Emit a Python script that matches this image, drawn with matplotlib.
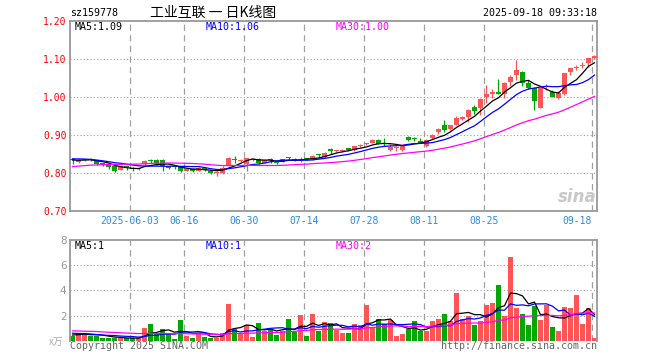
import matplotlib
matplotlib.use('Agg')
import matplotlib.pyplot as plt
import numpy as np
import pandas as pd

# ---------------- data ----------------
opens = [0.838, 0.830, 0.835, 0.837, 0.834, 0.826, 0.823, 0.819, 0.810, 0.819,
         0.814, 0.812, 0.824, 0.833, 0.835, 0.836, 0.818, 0.817, 0.816, 0.807,
         0.811, 0.807, 0.814, 0.807, 0.801, 0.800, 0.821, 0.838, 0.832, 0.825,
         0.836, 0.837, 0.828, 0.835, 0.831, 0.830, 0.840, 0.837, 0.835, 0.839,
         0.837, 0.849, 0.842, 0.862, 0.858, 0.859, 0.866, 0.861, 0.872, 0.876,
         0.880, 0.888, 0.880, 0.861, 0.866, 0.862, 0.895, 0.891, 0.885, 0.872,
         0.893, 0.909, 0.926, 0.917, 0.928, 0.943, 0.947, 0.974, 0.971, 1.002,
         1.010, 1.015, 1.008, 1.039, 1.060, 1.067, 1.037, 1.024, 0.973, 1.027,
         1.015, 0.998, 1.010, 1.066, 1.078, 1.083, 1.089, 1.104]
highs = [0.840, 0.837, 0.837, 0.840, 0.836, 0.828, 0.825, 0.820, 0.822, 0.821,
         0.816, 0.815, 0.834, 0.838, 0.838, 0.838, 0.820, 0.819, 0.818, 0.813,
         0.813, 0.816, 0.816, 0.809, 0.806, 0.818, 0.842, 0.845, 0.838, 0.841,
         0.840, 0.839, 0.836, 0.840, 0.833, 0.838, 0.843, 0.839, 0.843, 0.841,
         0.848, 0.852, 0.855, 0.866, 0.862, 0.863, 0.867, 0.873, 0.876, 0.880,
         0.890, 0.890, 0.893, 0.876, 0.872, 0.874, 0.897, 0.895, 0.892, 0.890,
         0.903, 0.920, 0.941, 0.927, 0.951, 0.951, 0.968, 0.980, 0.998, 1.032,
         1.022, 1.048, 1.039, 1.060, 1.098, 1.068, 1.045, 1.026, 1.026, 1.034,
         1.018, 1.016, 1.065, 1.078, 1.086, 1.092, 1.104, 1.112]
lows = [0.825, 0.828, 0.833, 0.832, 0.822, 0.818, 0.812, 0.803, 0.808, 0.810,
        0.806, 0.810, 0.822, 0.828, 0.822, 0.807, 0.812, 0.812, 0.803, 0.805,
        0.804, 0.805, 0.805, 0.799, 0.793, 0.799, 0.820, 0.828, 0.830, 0.806,
        0.833, 0.825, 0.826, 0.828, 0.825, 0.829, 0.836, 0.832, 0.830, 0.835,
        0.836, 0.840, 0.841, 0.852, 0.855, 0.856, 0.860, 0.860, 0.870, 0.874,
        0.879, 0.876, 0.873, 0.858, 0.860, 0.860, 0.885, 0.885, 0.879, 0.868,
        0.891, 0.903, 0.909, 0.915, 0.926, 0.940, 0.936, 0.955, 0.954, 0.984,
        0.998, 1.008, 0.997, 1.030, 1.045, 1.030, 1.022, 0.966, 0.971, 1.020,
        1.000, 0.996, 1.007, 1.058, 1.072, 1.076, 1.080, 1.100]
closes = [0.834, 0.835, 0.836, 0.836, 0.825, 0.822, 0.816, 0.806, 0.818, 0.813,
          0.812, 0.813, 0.832, 0.832, 0.825, 0.818, 0.815, 0.816, 0.807, 0.811,
          0.807, 0.814, 0.808, 0.801, 0.804, 0.815, 0.840, 0.836, 0.835, 0.840,
          0.838, 0.827, 0.834, 0.834, 0.827, 0.837, 0.839, 0.835, 0.836, 0.837,
          0.846, 0.847, 0.853, 0.860, 0.861, 0.862, 0.861, 0.872, 0.874, 0.878,
          0.888, 0.877, 0.876, 0.870, 0.869, 0.872, 0.887, 0.889, 0.880, 0.888,
          0.900, 0.917, 0.915, 0.926, 0.945, 0.948, 0.967, 0.963, 0.996, 1.010,
          1.015, 1.010, 1.037, 1.054, 1.071, 1.037, 1.024, 0.989, 1.024, 1.031,
          1.002, 1.011, 1.063, 1.076, 1.080, 1.086, 1.103, 1.109]
volumes = [0.37, 0.64, 0.60, 0.35, 0.40, 0.24, 0.24, 0.24, 0.19, 0.18,
           0.20, 0.20, 1.04, 1.34, 0.50, 0.90, 0.50, 0.15, 1.65, 0.40,
           0.25, 0.57, 0.27, 0.20, 0.20, 0.60, 2.94, 0.90, 0.57, 1.25,
           0.30, 1.44, 0.75, 0.90, 0.47, 0.80, 1.74, 0.70, 2.05, 0.37,
           2.13, 0.80, 1.48, 1.44, 0.86, 0.60, 0.60, 1.36, 1.28, 2.80,
           1.08, 1.74, 1.34, 1.65, 0.40, 0.50, 0.95, 1.60, 0.75, 0.75,
           1.55, 1.70, 2.13, 1.60, 3.76, 1.74, 2.00, 1.25, 1.60, 2.80,
           3.00, 4.46, 2.00, 6.64, 2.60, 2.10, 1.25, 2.75, 1.65, 2.85,
           1.10, 0.75, 2.65, 2.60, 3.60, 1.35, 2.60, 0.20]
# sessions before the visible window (only feed the moving averages)
prior_closes = [0.800, 0.798, 0.802, 0.805, 0.803, 0.800, 0.804, 0.806, 0.808, 0.805,
                0.803, 0.806, 0.809, 0.810, 0.808, 0.812, 0.815, 0.818, 0.820, 0.822,
                0.836, 0.840, 0.845, 0.842, 0.842, 0.838, 0.834, 0.832, 0.837]
prior_volumes = [0.9, 1.1, 0.7, 0.8, 1.2, 0.9, 0.9, 0.8, 1.0, 0.7,
                 0.9, 0.8, 1.1, 0.7, 0.9, 0.8, 0.6, 1.0, 0.9, 0.8,
                 0.8, 0.7, 0.6, 0.9, 0.65, 0.5, 0.4, 0.55, 0.43]

holidays = ['2025-06-02']
tick_dates = ['2025-06-03', '2025-06-16', '2025-06-30', '2025-07-14',
              '2025-07-28', '2025-08-11', '2025-08-25', '2025-09-18']
tick_labels = ['2025-06-03', '06-16', '06-30', '07-14', '07-28', '08-11', '08-25', '09-18']
price_ticks = [0.70, 0.80, 0.90, 1.00, 1.10, 1.20]
vol_ticks = [2, 4, 6, 8]
vol_legend = ['MA5:1', 'MA10:1', 'MA30:2']
code = 'sz159778'
title = '工业互联 一 日K线图'
stamp = '2025-09-18 09:33:18'

# ---------------- setup ----------------
W, H = 660, 360
RED = '#FF5555'
GREEN = '#00A800'
GRID = '#A0A0A0'
FRAME = '#999999'
MONO = 'DejaVu Sans Mono'

dates = pd.bdate_range('2025-05-19', '2025-09-18', freq='C', holidays=holidays)
n = len(closes)
x = np.arange(n)
o = np.array(opens); h = np.array(highs); l = np.array(lows); c = np.array(closes)
v = np.array(volumes)
up = c >= o
cols = np.where(up, RED, GREEN)

def ma(prior, arr, k):
    s = pd.Series(list(prior) + list(arr)).rolling(k).mean().values
    return s[len(prior):]

fig = plt.figure(figsize=(W / 100, H / 100), dpi=100)
fig.patch.set_facecolor('white')

def px_axes(left, top, right, bottom):
    return fig.add_axes([left / W, 1 - bottom / H, (right - left) / W, (bottom - top) / H])

def ftext(px, py, s, **kw):
    fig.text(px / W, 1 - py / H, s, **kw)

axp = px_axes(70, 21.3, 597, 211.3)
axv = px_axes(70, 240, 597, 340.7)

date_index = {d.strftime('%Y-%m-%d'): i for i, d in enumerate(dates)}
tick_pos = [date_index[d] - 0.42 for d in tick_dates]

for ax in (axp, axv):
    ax.set_xlim(-0.42, n - 0.58)
    for xp in tick_pos:
        ax.axvline(xp, color=GRID, lw=0.9, ls=(0, (5, 3.5)), zorder=0)
    for sp in ax.spines.values():
        sp.set_color(FRAME)
        sp.set_linewidth(1.3)
    ax.tick_params(length=0)

# ---- price panel ----
axp.set_ylim(0.70, 1.20)
for yv in price_ticks[1:-1]:
    axp.axhline(yv, color=GRID, lw=0.8, ls=(0, (1, 2)), zorder=0)
axp.vlines(x, l, h, colors=cols, lw=0.9, zorder=2)
body_b = np.minimum(o, c)
body_h = np.maximum(np.abs(c - o), 0.0028)
axp.bar(x, body_h, bottom=body_b, width=0.83, color=cols, linewidth=0, zorder=3)

ma5 = ma(prior_closes, closes, 5)
ma10 = ma(prior_closes, closes, 10)
ma30 = ma(prior_closes, closes, 30)
axp.plot(x, ma5, color='black', lw=0.9, zorder=4)
axp.plot(x, ma10, color='#0000FF', lw=0.9, zorder=4)
axp.plot(x, ma30, color='#FF00FF', lw=0.9, zorder=4)

axp.set_yticks(price_ticks)
axp.set_yticklabels(['%.2f' % t for t in price_ticks], color='#FF0000',
                    fontsize=7, family=MONO)
axp.tick_params(axis='y', pad=2.6)
axp.set_xticks(tick_pos)
axp.set_xticklabels(tick_labels, color='#2A8CE0', fontsize=7, family=MONO)
axp.tick_params(axis='x', pad=3.5)
axp.get_xticklabels()[-1].set_horizontalalignment('right')

ftext(75, 26.5, 'MA5:%.2f' % ma5[-1], color='black', fontsize=7.2, family=MONO, va='center')
ftext(206, 26.5, 'MA10:%.2f' % ma10[-1], color='#0000FF', fontsize=7.2, family=MONO, va='center')
ftext(336, 26.5, 'MA30:%.2f' % ma30[-1], color='#FF00FF', fontsize=7.2, family=MONO, va='center')

ftext(597, 197, 'sina', color='#C8C8C8', fontsize=12, style='italic',
      weight='bold', ha='right', va='center')

# ---- volume panel ----
axv.set_ylim(0, 8)
axv.spines['bottom'].set_visible(False)
for yv in vol_ticks[:-1]:
    axv.axhline(yv, color=GRID, lw=0.8, ls=(0, (1, 2)), zorder=0)
axv.bar(x, v, width=0.83, color=cols, linewidth=0, zorder=2)
axv.plot(x, ma(prior_volumes, volumes, 5), color='black', lw=0.9, zorder=4)
axv.plot(x, ma(prior_volumes, volumes, 10), color='#0000FF', lw=0.9, zorder=4)
axv.plot(x, ma(prior_volumes, volumes, 30), color='#FF00FF', lw=0.9, zorder=4)
axv.set_yticks(vol_ticks)
axv.set_yticklabels([str(t) for t in vol_ticks], color='#999999', fontsize=7.5)
axv.tick_params(axis='y', pad=2.6)
axv.set_xticks([])

for px_, s, colr in zip([75, 206, 336], vol_legend, ['black', '#0000FF', '#FF00FF']):
    ftext(px_, 246, s, color=colr, fontsize=7.2, family=MONO, va='center')

ftext(63, 341.5, 'x万', color='#AAAAAA', fontsize=7,
      family=['Noto Sans CJK SC', 'DejaVu Sans'], ha='right', va='center')
ftext(70, 346, 'Copyright 2025 SINA.COM', color='#666666', fontsize=7.2,
      family=MONO, va='center')
ftext(597, 346, 'http://finance.sina.com.cn', color='#666666', fontsize=7.2,
      family=MONO, ha='right', va='center')

# ---- header ----
ftext(70, 13, code, color='black', fontsize=7.2, family=MONO, va='center')
ftext(213, 12.5, title, color='black', fontsize=10,
      family=['Noto Sans CJK SC', 'DejaVu Sans'], ha='center', va='center')
ftext(597, 13, stamp, color='black', fontsize=7.2, family=MONO, ha='right', va='center')

fig.savefig('out.png', dpi=100)
